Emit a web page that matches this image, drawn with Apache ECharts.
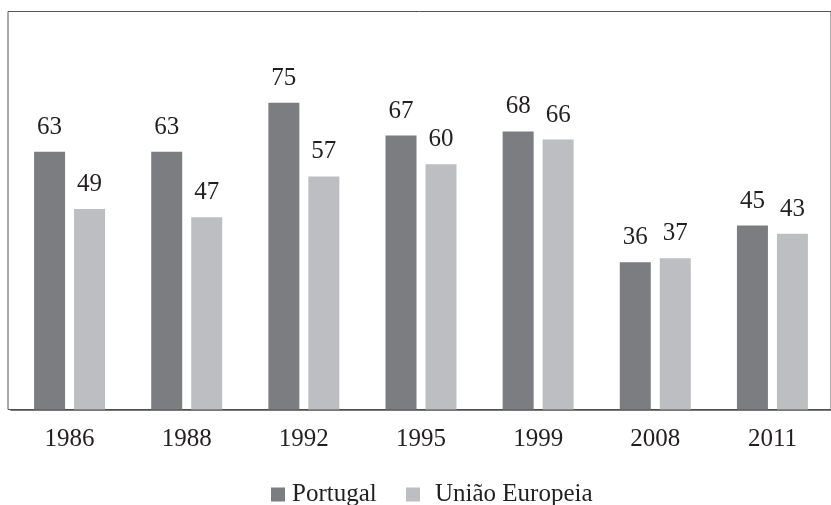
<!DOCTYPE html>
<html>
<head>
<meta charset="utf-8">
<script src="https://cdn.jsdelivr.net/npm/echarts@6/dist/echarts.min.js"></script>
<style>html,body{margin:0;padding:0;background:#fff}#c{width:831px;height:505px}</style>
</head>
<body>
<div id="c"></div>
<script>
const categories = ['1986', '1988', '1992', '1995', '1999', '2008', '2011'];
const portugal = [63, 63, 75, 67, 68, 36, 45];
const uniaoEuropeia = [49, 47, 57, 60, 66, 37, 43];
const seriesNames = ['Portugal', 'União Europeia'];

const FONT = 'Liberation Serif';
const TXT = '#231f20';
const chart = echarts.init(document.getElementById('c'), null, {renderer: 'canvas'});
const labelStyle = {show: true, position: 'top', distance: 12, color: TXT, fontFamily: FONT, fontSize: 25};
chart.setOption({
  animation: false,
  textStyle: {fontFamily: FONT},
  grid: [
    {left: 8, top: 11.5, right: -30, bottom: 95.5, show: true, borderColor: '#555', borderWidth: 1, backgroundColor: 'transparent'},
    {left: 11, top: 12, width: 826, bottom: 95.5}
  ],
  legend: [
    {data: [seriesNames[0]], left: 271, top: 482, padding: 0, itemWidth: 14, itemHeight: 14, icon: 'rect',
     textStyle: {color: TXT, fontFamily: FONT, fontSize: 25, padding: [0, 0, 0, 2]}},
    {data: [seriesNames[1]], left: 406, top: 482, padding: 0, itemWidth: 14, itemHeight: 14, icon: 'rect',
     textStyle: {color: TXT, fontFamily: FONT, fontSize: 25, padding: [0, 0, 0, 10]}}
  ],
  xAxis: [
    {type: 'category', data: categories, gridIndex: 1,
     axisLine: {show: true, lineStyle: {color: '#4d4d4d', width: 1.5}},
     axisTick: {show: false},
     axisLabel: {color: TXT, fontFamily: FONT, fontSize: 25, margin: 17}},
    {type: 'value', gridIndex: 0, show: false}
  ],
  yAxis: [
    {type: 'value', gridIndex: 1, min: 0, max: 97.2, show: false, splitLine: {show: false}},
    {type: 'value', gridIndex: 0, show: false, splitLine: {show: false}}
  ],
  series: [
    {name: seriesNames[0], type: 'bar', xAxisIndex: 0, yAxisIndex: 0, data: portugal,
     barWidth: 31, barGap: '29%', itemStyle: {color: '#7c7d81'}, label: labelStyle},
    {name: seriesNames[1], type: 'bar', xAxisIndex: 0, yAxisIndex: 0, data: uniaoEuropeia,
     barWidth: 31, barGap: '29%', itemStyle: {color: '#bdbec2'}, label: labelStyle}
  ]
});
</script>
</body>
</html>
